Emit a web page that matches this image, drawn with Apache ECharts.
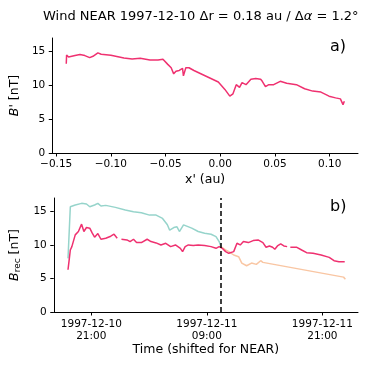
<!DOCTYPE html>
<html>
<head>
<meta charset="utf-8">
<script src="https://cdn.jsdelivr.net/npm/echarts@6/dist/echarts.min.js"></script>
<style>
  html, body { margin: 0; padding: 0; background: #fff; }
  #chart { width: 374px; height: 365px; }
</style>
</head>
<body>
<div id="chart"></div>
<script>
// panel a) B' vs x' (au)
var topX = [-0.1408, -0.1405, -0.1387, -0.1328, -0.1283, -0.1238, -0.1194, -0.1164, -0.1119, -0.1089,
  -0.1000, -0.0881, -0.0806, -0.0732, -0.0643, -0.0569, -0.0524, -0.0480, -0.0449, -0.0426,
  -0.0405, -0.0375, -0.0345, -0.0337, -0.0315, -0.0286, -0.0241, -0.0018, 0.0042, 0.0087,
  0.0116, 0.0146, 0.0176, 0.0199, 0.0235, 0.0280, 0.0324, 0.0369, 0.0384, 0.0413,
  0.0444, 0.0488, 0.0548, 0.0607, 0.0696, 0.0771, 0.0845, 0.0920, 0.0994, 0.1054,
  0.1098, 0.1122, 0.1134];
var topB = [13.2, 14.5, 14.2, 14.4, 14.55, 14.4, 14.1, 14.3, 14.8, 14.6,
  14.45, 14.05, 13.9, 14.0, 13.75, 13.75, 13.85, 13.1, 12.6, 11.7,
  12.1, 12.2, 12.5, 11.4, 12.6, 12.6, 12.2, 10.5, 9.4, 8.4,
  8.75, 10.1, 9.7, 10.4, 10.1, 10.9, 11.0, 10.9, 10.6, 9.8,
  10.1, 10.1, 10.6, 10.3, 10.1, 9.5, 9.15, 9.0, 8.4, 8.15,
  8.0, 7.15, 7.65];
var topTicks = [-0.15, -0.10, -0.05, 0.00, 0.05, 0.10];
var bTicks = [0, 5, 10, 15];

// panel b) hours since 1997-12-10 00:00
var recTime = [18.58, 18.72, 18.82, 18.98, 19.33, 19.66, 19.99, 20.23, 20.5, 20.84,
  21.1, 21.34, 21.68, 22.0, 22.5, 23.02, 23.36, 23.69, 23.9, 24.13,
  24.7, 25.03, 25.38, 25.7, 26.2, 26.8, 27.2, 27.73, 28.23, 28.73,
  29.24, 29.74, 30.25, 30.48, 30.75, 31.08, 31.59, 32.1, 32.77, 33.44,
  33.95, 34.28, 34.6, 34.95, 35.28, 35.79, 36.13, 36.47, 36.8, 37.31,
  37.81, 38.32, 38.82, 39.15, 39.5, 39.83, 40.06, 40.33, 40.67, 41.0,
  41.34, 41.5, 41.67, 42.35, 42.85, 43.36, 44.03, 44.87, 45.71, 46.21,
  46.72, 47.32];
var recPink = [6.3, 8.0, 9.25, 9.75, 11.5, 12.0, 13.1, 12.0, 12.6, 12.5,
  11.75, 11.15, 11.7, 10.85, 11.0, 11.3, 11.6, 11.0, null, 10.85,
  10.75, 10.5, 10.85, 10.35, 10.35, 10.85, 10.5, 10.3, 10.0, 10.25,
  9.75, 10.0, 9.5, 9.0, 9.75, 10.0, 9.9, 10.0, 9.9, 9.75,
  9.5, 9.75, 9.5, 9.0, 8.75, 9.0, 10.25, 10.0, 10.5, 10.35,
  10.65, 10.75, 10.35, 9.65, 9.85, 9.65, 9.35, 9.85, 10.15, 9.85,
  9.75, null, 9.65, 9.65, 9.25, 8.85, 8.75, 8.5, 8.15, 7.65,
  7.5, 7.5];
var tealTime = [18.58, 18.82, 19.33, 19.99, 20.5, 20.84, 21.34, 21.68, 22.0, 22.5,
  23.5, 24.53, 25.38, 26.2, 27.05, 27.73, 28.4, 28.9, 29.14, 29.57,
  29.9, 30.15, 30.58, 31.43, 32.1, 32.77, 33.44, 33.95, 34.28, 34.45];
var tealB = [8.0, 15.7, 15.95, 16.2, 16.1, 15.7, 15.95, 16.2, 15.8, 15.9,
  15.6, 15.2, 14.95, 14.8, 14.45, 14.45, 13.95, 13.0, 12.2, 12.6,
  12.7, 12.0, 13.0, 12.5, 12.0, 11.75, 11.6, 11.25, 10.5, 9.75];
var orangeTime = [34.45, 34.95, 35.28, 35.79, 36.3, 36.63, 37.13, 37.64, 37.81, 38.14,
  38.59, 38.82, 47.2, 47.39];
var orangeB = [9.75, 9.25, 9.0, 8.5, 8.25, 7.3, 6.9, 7.3, 7.2, 7.1,
  7.65, 7.4, 5.2, 4.9];
var shiftTime = 34.45;
var timeTicks = [21, 33, 45];
var timeLabels = ['1997-12-10\n21:00', '1997-12-11\n09:00', '1997-12-11\n21:00'];

function pairs(xs, ys) {
  return xs.map(function (x, i) { return [x, ys[i] === null ? '-' : ys[i]]; });
}

var font = 'DejaVu Sans';
var black = '#000';
var tickSize = 10.5;
var nameSize = 12.5;
function axisCommon() {
  return {
    axisLine: { show: true, onZero: false, lineStyle: { color: black, width: 1 } },
    axisTick: { show: true, length: 3.5, lineStyle: { color: black, width: 1 } },
    splitLine: { show: false },
    axisLabel: { color: black, fontFamily: font, fontSize: tickSize }
  };
}

var chart = echarts.init(document.getElementById('chart'));

var xTop = axisCommon();
Object.assign(xTop, {
  type: 'value', gridIndex: 0, min: -0.1536, max: 0.1259,
  name: "x' (au)", nameLocation: 'middle', nameGap: 20,
  nameTextStyle: { color: black, fontFamily: font, fontSize: nameSize }
});
xTop.axisTick.customValues = topTicks;
xTop.axisLabel.customValues = topTicks;
xTop.axisLabel.margin = 6;
xTop.axisLabel.formatter = function (v) {
  return (v < 0 ? '\u2212' : '') + Math.abs(v).toFixed(2);
};

var xBot = axisCommon();
Object.assign(xBot, {
  type: 'value', gridIndex: 1, min: 17.1, max: 48.7,
  name: 'Time (shifted for NEAR)', nameLocation: 'middle', nameGap: 31,
  nameTextStyle: { color: black, fontFamily: font, fontSize: nameSize }
});
xBot.axisTick.customValues = timeTicks;
xBot.axisLabel.customValues = timeTicks;
xBot.axisLabel.margin = 6;
xBot.axisLabel.lineHeight = 12;
xBot.axisLabel.formatter = function (v) {
  var i = timeTicks.indexOf(v);
  return i >= 0 ? timeLabels[i] : '';
};

function yAxis(idx, nameStr) {
  var a = axisCommon();
  Object.assign(a, {
    type: 'value', gridIndex: idx, min: 0, max: 17,
    name: nameStr, nameLocation: 'middle', nameGap: 24, nameRotate: 90,
    nameTextStyle: {
      color: black, fontFamily: font, fontSize: nameSize,
      rich: {
        i: { fontStyle: 'italic', fontFamily: font, fontSize: nameSize, color: black },
        sub: { fontFamily: font, fontSize: 9, color: black, verticalAlign: 'bottom', padding: [7, 0, 0, 0] }
      }
    }
  });
  a.axisTick.customValues = bTicks;
  a.axisLabel.customValues = bTicks;
  a.axisLabel.margin = 7;
  return a;
}

chart.setOption({
  animation: false,
  backgroundColor: '#fff',
  title: {
    text: 'Wind NEAR 1997-12-10 \u0394r = 0.18 au / \u0394{a|\u03b1} = 1.2\u00b0',
    left: 38, top: 5,
    textStyle: {
      color: black, fontFamily: font, fontSize: 13, fontWeight: 'normal',
      rich: { a: { fontStyle: 'italic', fontFamily: font, fontSize: 13, color: black } }
    }
  },
  grid: [
    { left: 45, right: 16, top: 38, height: 115 },
    { left: 45, right: 16, top: 198, height: 114 }
  ],
  xAxis: [xTop, xBot],
  yAxis: [yAxis(0, "{i|B}' [nT]"), yAxis(1, '{i|B}{sub|rec} [nT]')],
  graphic: [
    { type: 'text', left: 330, top: 39, style: { text: 'a)', font: '16px "DejaVu Sans"', fill: black } },
    { type: 'text', left: 330, top: 199, style: { text: 'b)', font: '16px "DejaVu Sans"', fill: black } }
  ],
  series: [
    {
      type: 'line', xAxisIndex: 0, yAxisIndex: 0, data: pairs(topX, topB),
      showSymbol: false, lineStyle: { color: '#ef3170', width: 1.5 }
    },
    {
      type: 'line', xAxisIndex: 1, yAxisIndex: 1, data: pairs(tealTime, tealB),
      showSymbol: false, lineStyle: { color: '#96d4cb', width: 1.5 }, z: 2
    },
    {
      type: 'line', xAxisIndex: 1, yAxisIndex: 1, data: pairs(orangeTime, orangeB),
      showSymbol: false, lineStyle: { color: '#f9c6a3', width: 1.5 }, z: 2
    },
    {
      type: 'line', xAxisIndex: 1, yAxisIndex: 1, data: pairs(recTime, recPink),
      showSymbol: false, connectNulls: false, lineStyle: { color: '#ef3170', width: 1.5 }, z: 3,
      markLine: {
        silent: true, symbol: 'none', label: { show: false },
        lineStyle: { color: black, type: [5, 3], width: 1.5 },
        data: [{ xAxis: shiftTime }]
      }
    }
  ]
});
</script>
</body>
</html>
